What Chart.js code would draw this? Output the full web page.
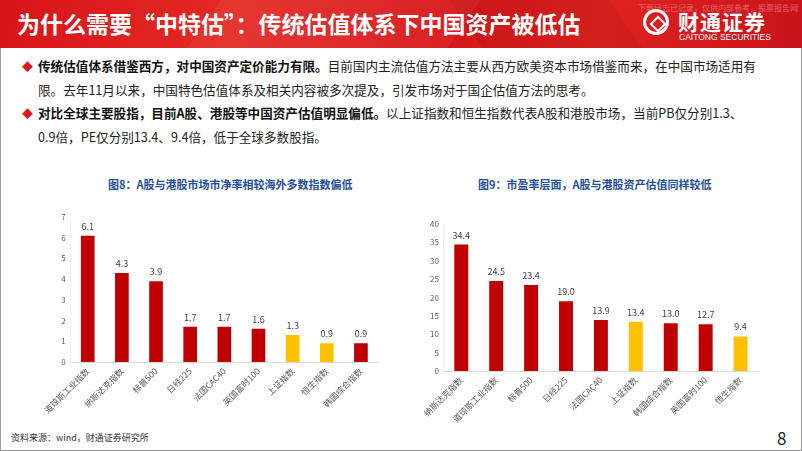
<!DOCTYPE html>
<html lang="zh">
<head>
<meta charset="UTF-8">
<title>中特估</title>
<script src="https://cdn.jsdelivr.net/npm/chart.js"></script>
<style>
  html, body { margin: 0; padding: 0; }
  body { width: 802px; height: 451px; position: relative; overflow: hidden; background: #fff;
         font-family: "Noto Sans CJK SC", sans-serif; }
  .frame { position: absolute; left: 0; top: 0; width: 800px; height: 449px; border: 1px solid #9a9a9a; }
  .header { position: absolute; left: 0; top: 0; width: 802px; height: 48px; overflow: hidden;
            background: linear-gradient(100deg, #d8141a 0%, #e42a24 30%, #d71519 55%, #e0221f 75%, #c9131a 100%); }
  .shape1 { position: absolute; left: 200px; top: -20px; width: 260px; height: 100px; background: rgba(255,255,255,0.06); transform: skewX(-35deg); }
  .shape2 { position: absolute; left: 470px; top: -20px; width: 160px; height: 100px; background: rgba(0,0,0,0.05); transform: skewX(35deg); }
  .htitle { position: absolute; left: 17px; top: 6px; color: #fff; font-size: 23px; font-weight: bold; white-space: nowrap; letter-spacing: 0px; }
  .logo { position: absolute; left: 643px; top: 9px; width: 26px; height: 26px; border: 3px solid #fff; border-radius: 50%; box-sizing: border-box; }
  .logo:after { content: ""; position: absolute; left: 6px; top: 6px; width: 8px; height: 8px; border: 2px solid #fff; transform: rotate(45deg); }
  .brand { position: absolute; left: 678px; top: 6px; color: #fff; font-size: 21px; font-weight: bold; white-space: nowrap; letter-spacing: 1px; }
  .brand-en { position: absolute; left: 679px; top: 32px; color: #fff; font-size: 8.5px; white-space: nowrap; font-family: "Liberation Sans", sans-serif; }
  .wm { position: absolute; left: 638px; top: 2px; color: rgba(255,255,255,0.35); font-size: 8px; white-space: nowrap; }
  .text { position: absolute; left: 22px; top: 54px; font-size: 12.6px; color: #222; }
  .line { height: 23.6px; line-height: 23.6px; white-space: nowrap; }
  .ind { padding-left: 16px; }
  .dia { color: #d7191c; font-size: 11px; display: inline-block; width: 16px; }
  b { font-weight: bold; color: #111; }
  .ctitle { position: absolute; top: 176px; color: #1f4e9a; font-size: 11px; font-weight: bold; white-space: nowrap; }
  canvas { position: absolute; }
  .src { position: absolute; left: 11px; top: 431px; font-size: 9px; color: #333; white-space: nowrap; }
  .pg { position: absolute; left: 777px; top: 425px; font-size: 17px; color: #222; }
</style>
</head>
<body>
<div class="frame"></div>
<div class="header">
  <div class="shape1"></div>
  <div class="shape2"></div>
  <div class="htitle">为什么需要“中特估”：传统估值体系下中国资产被低估</div>
  <div class="wm">下载日志已记录，仅供内部参考，股票报告网</div>
  <div class="logo"></div>
  <div class="brand">财通证券</div>
  <div class="brand-en">CAITONG SECURITIES</div>
</div>

<div class="text">
  <div class="line"><span class="dia">◆</span><b>传统估值体系借鉴西方，对中国资产定价能力有限。</b>目前国内主流估值方法主要从西方欧美资本市场借鉴而来，在中国市场适用有</div>
  <div class="line ind">限。去年11月以来，中国特色估值体系及相关内容被多次提及，引发市场对于国企估值方法的思考。</div>
  <div class="line"><span class="dia">◆</span><b>对比全球主要股指，目前A股、港股等中国资产估值明显偏低。</b>以上证指数和恒生指数代表A股和港股市场，当前PB仅分别1.3、</div>
  <div class="line ind">0.9倍，PE仅分别13.4、9.4倍，低于全球多数股指。</div>
</div>

<div class="ctitle" style="left:108px;">图8：A股与港股市场市净率相较海外多数指数偏低</div>
<div class="ctitle" style="left:478px;">图9：市盈率层面，A股与港股资产估值同样较低</div>

<canvas id="pbChart" width="345" height="228" style="left:40px; top:200px;"></canvas>
<canvas id="peChart" width="345" height="228" style="left:420px; top:200px;"></canvas>

<div class="src">资料来源：wind，财通证券研究所</div>
<div class="pg">8</div>

<script>
// 图8 市净率
var pbLabels = ['道琼斯工业指数', '纳斯达克指数', '标普500', '日经225', '法国CAC40', '英国富时100', '上证指数', '恒生指数', '韩国综合指数'];
var pbValues = [6.1, 4.3, 3.9, 1.7, 1.7, 1.6, 1.3, 0.9, 0.9];

// 图9 市盈率
var peLabels = ['纳斯达克指数', '道琼斯工业指数', '标普500', '日经225', '法国CAC40', '上证指数', '韩国综合指数', '英国富时100', '恒生指数'];
var peValues = [34.4, 24.5, 23.4, 19.0, 13.9, 13.4, 13.0, 12.7, 9.4];

var chinaIdx = ['上证指数', '恒生指数'];
var RED = '#c00000', GOLD = '#ffc000';

function barColors(labels) {
    return labels.map(function (l) { return chinaIdx.indexOf(l) >= 0 ? GOLD : RED; });
}

Chart.defaults.font.family = '"Noto Sans CJK SC", sans-serif';

var valueLabels = {
    id: 'valueLabels',
    afterDatasetsDraw: function (chart) {
        var ctx = chart.ctx;
        var meta = chart.getDatasetMeta(0);
        var data = chart.data.datasets[0].data;
        ctx.save();
        ctx.fillStyle = '#404040';
        ctx.font = '9px "Noto Sans CJK SC", sans-serif';
        ctx.textAlign = 'center';
        ctx.textBaseline = 'bottom';
        meta.data.forEach(function (bar, i) {
            ctx.fillText(data[i].toFixed(1), bar.x, bar.y - 5);
        });
        ctx.restore();
    }
};

function makeChart(id, labels, values, maxY, step, yw, xh, padTop) {
    new Chart(document.getElementById(id), {
        type: 'bar',
        data: {
            labels: labels,
            datasets: [{
                data: values,
                backgroundColor: barColors(labels),
                barPercentage: 0.4,
                categoryPercentage: 1
            }]
        },
        options: {
            responsive: false,
            animation: false,
            devicePixelRatio: 1,
            layout: { padding: { top: padTop, right: 7, left: 0, bottom: 0 } },
            plugins: { legend: { display: false }, tooltip: { enabled: false } },
            scales: {
                x: {
                    grid: { display: false, drawTicks: false },
                    border: { color: '#d9d9d9' },
                    ticks: { color: '#595959', font: { size: 8.5 }, maxRotation: 45, minRotation: 45, autoSkip: false, padding: 4 },
                    afterFit: function (s) { s.height = xh; }
                },
                y: {
                    min: 0, max: maxY,
                    grid: { display: false, drawTicks: false },
                    border: { color: '#f0f0f0' },
                    ticks: { stepSize: step, color: '#595959', font: { size: 8 }, padding: 5 },
                    afterFit: function (s) { s.width = yw; }
                }
            }
        },
        plugins: [valueLabels]
    });
}

makeChart('pbChart', pbLabels, pbValues, 7, 1, 30, 66, 17);
makeChart('peChart', peLabels, peValues, 40, 5, 22, 57, 24);
</script>
</body>
</html>
